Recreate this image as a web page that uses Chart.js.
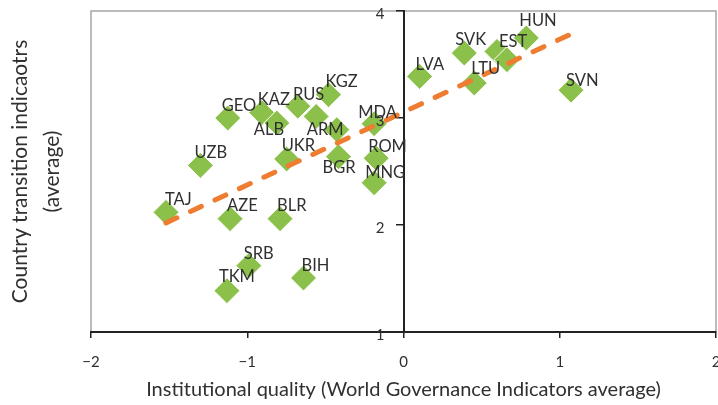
<!DOCTYPE html>
<html>
<head>
<meta charset="utf-8">
<script src="https://cdn.jsdelivr.net/npm/chart.js@4/dist/chart.umd.min.js"></script>
<style>
  html, body { margin: 0; padding: 0; background: #fff; }
  #wrap { width: 718px; height: 405px; }
</style>
</head>
<body>
<div id="wrap"><canvas id="chart"></canvas></div>
<script>
// data
const countries = ['TAJ', 'AZE', 'BLR', 'SRB', 'TKM', 'BIH', 'UZB', 'GEO', 'KAZ', 'ALB', 'RUS', 'KGZ', '',
    'ARM', 'UKR', 'BGR', 'MDA', 'ROM', 'MNG', 'LVA', 'SVK', 'EST', '', 'HUN', 'LTU', 'SVN'];
const quality = [-1.52, -1.11, -0.79, -0.99, -1.13, -0.64, -1.30, -1.125, -0.907, -0.811, -0.676, -0.48, -0.559,
    -0.427, -0.748, -0.416, -0.188, -0.175, -0.188, 0.103, 0.389, 0.598, 0.662, 0.786, 0.453, 1.072];
const transition = [2.118, 2.059, 2.059, 1.62, 1.386, 1.505, 2.557, 3.0, 3.05, 2.953, 3.11, 3.218, 3.015,
    2.891, 2.617, 2.638, 2.947, 2.624, 2.395, 3.389, 3.607, 3.622, 3.545, 3.748, 3.327, 3.26];
const trendX = [-1.52, 1.08];
const trendY = [2.02, 3.79];

const xTitle = 'Institutional quality (World Governance Indicators average)';
const yTitle = ['Country transition indicaotrs', '(average)'];

const FONT = 'Lato, "Open Sans", sans-serif';
const TEXT = '#303030';

// label placement: offset of text left edge / middle from the diamond centre
const labelOffsets = {
    TAJ: [-1, -13], AZE: [-3, -13], BLR: [-3, -13], SRB: [-5, -12], TKM: [-8, -14], BIH: [-2, -12],
    UZB: [-6, -13], GEO: [-6, -12], KAZ: [-4, -13], ALB: [-23, 7], RUS: [-5, -12], KGZ: [-3, -13],
    ARM: [-30, 0], UKR: [-5, -13], BGR: [-16, 11], MDA: [-16, -11], ROM: [-8, -12], MNG: [-9, -10],
    LVA: [-4, -12], SVK: [-9, -13], EST: [2, -10], HUN: [-7, -17], LTU: [-3, -14], SVN: [-5, -10],
};

// grey frame round the plot area
const framePlugin = {
    id: 'frame',
    beforeDraw(chart) {
        const { ctx, chartArea: a } = chart;
        ctx.save();
        ctx.strokeStyle = '#a6a6a6';
        ctx.lineWidth = 1.5;
        ctx.strokeRect(a.left, a.top, a.right - a.left, a.bottom - a.top);
        ctx.restore();
    },
};

// y tick labels, country codes and the y title
const labelPlugin = {
    id: 'labels',
    afterDatasetsDraw(chart) {
        const { ctx, chartArea: a, scales } = chart;
        const meta = chart.getDatasetMeta(1);
        ctx.save();
        ctx.fillStyle = TEXT;

        // y ticks sit left of the axis at x = 0
        const axisX = scales.x.getPixelForValue(0);
        ctx.font = '15px ' + FONT;
        ctx.textAlign = 'right';
        ctx.textBaseline = 'middle';
        scales.y.ticks.forEach(t => {
            ctx.fillText(String(t.value), axisX - 19, scales.y.getPixelForValue(t.value) + 3);
        });

        ctx.font = '16.5px ' + FONT;
        ctx.textAlign = 'left';
        meta.data.forEach((pt, i) => {
            const name = countries[i];
            if (!name) return;
            const off = labelOffsets[name] || [-5, -12];
            ctx.fillText(name, pt.x + off[0], pt.y + off[1]);
        });

        // y axis title, two lines
        ctx.translate(0, (a.top + a.bottom) / 2);
        ctx.rotate(-Math.PI / 2);
        ctx.textAlign = 'center';
        ctx.font = '21px ' + FONT;
        ctx.fillText(yTitle[0], 0, 20);
        ctx.fillText(yTitle[1], 0, 52);
        ctx.restore();
    },
};

const points = quality.map((q, i) => ({ x: q, y: transition[i] }));
const trend = trendX.map((x, i) => ({ x: x, y: trendY[i] }));

new Chart(document.getElementById('chart'), {
    type: 'scatter',
    data: {
        datasets: [
            {
                type: 'line',
                data: trend,
                borderColor: '#ee7d31',
                borderWidth: 5,
                borderDash: [12, 15],
                borderCapStyle: 'round',
                pointRadius: 0,
                fill: false,
                order: 0,
            },
            {
                data: points,
                pointStyle: 'rectRot',
                pointRadius: 13,
                pointHoverRadius: 13,
                backgroundColor: '#8bc04b',
                borderColor: '#ffffff',
                borderWidth: 1,
                order: 1,
            },
        ],
    },
    options: {
        responsive: true,
        maintainAspectRatio: false,
        animation: false,
        layout: { autoPadding: false, padding: { left: 91, right: 2, top: 11, bottom: 3 } },
        plugins: {
            legend: { display: false },
            tooltip: { enabled: false },
        },
        scales: {
            x: {
                type: 'linear',
                position: 'bottom',
                min: -2,
                max: 2,
                afterFit(scale) { scale.paddingRight = 0; scale.paddingLeft = 0; },
                ticks: {
                    stepSize: 1,
                    padding: 15,
                    color: TEXT,
                    font: { family: FONT, size: 15 },
                    callback: v => String(v).replace('-', '\u2212'),
                },
                grid: { drawOnChartArea: false, tickLength: 6, color: '#222', lineWidth: 1.5 },
                border: { color: '#222', width: 2 },
                title: {
                    display: true,
                    text: xTitle,
                    color: TEXT,
                    font: { family: FONT, size: 20 },
                    padding: { top: -8, bottom: 0 },
                },
            },
            y: {
                type: 'linear',
                position: { x: 0 },
                min: 1,
                max: 4,
                afterFit(scale) { scale.paddingTop = 0; scale.paddingBottom = 0; },
                ticks: { stepSize: 1, display: false },
                grid: { drawOnChartArea: false, tickLength: 7, color: '#222', lineWidth: 1.5 },
                border: { color: '#222', width: 2 },
            },
        },
    },
    plugins: [framePlugin, labelPlugin],
});
</script>
</body>
</html>
